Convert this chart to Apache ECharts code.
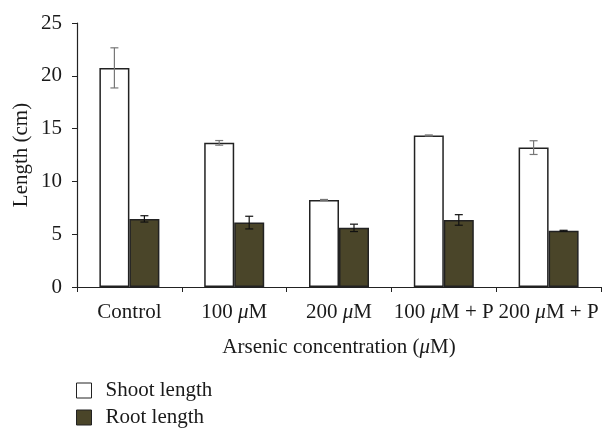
<!DOCTYPE html>
<html><head><meta charset="utf-8">
<script src="https://cdn.jsdelivr.net/npm/echarts@6/dist/echarts.min.js"></script>
<style>html,body{margin:0;padding:0;background:#fff}#c{width:603px;height:428px}</style>
</head><body><div id="c"></div>
<script>
const categories = ['Control', '100 μM', '200 μM', '100 μM + P', '200 μM + P'];
const shootLength = [20.75, 13.65, 8.25, 14.35, 13.2];
const shootError = [1.9, 0.22, 0.04, 0.05, 0.65];
const rootLength = [6.45, 6.1, 5.6, 6.35, 5.32];
const rootError = [0.3, 0.6, 0.35, 0.5, 0.05];
const yTicks = [0, 5, 10, 15, 20, 25];
const seriesNames = ['Shoot length', 'Root length'];

const FONT = 'Liberation Serif';
const FS = 21;
const rich = { i: { fontFamily: FONT, fontStyle: 'italic', fontSize: FS, color: '#1a1a1a' } };
function mu(s) { return s.replace(/μ/g, '{i|μ}'); }

const chart = echarts.init(document.getElementById('c'), null, { renderer: 'canvas' });
const BW = 30;
const ROOT_COLOR = '#4a4529';

function errSeries(name, vals, errs, offset, color) {
  return {
    type: 'custom', name: name + ' err', silent: true, z: 5,
    data: vals.map((v, i) => [i, v, errs[i]]),
    renderItem: function (params, api) {
      const i = api.value(0), v = api.value(1), e = api.value(2);
      const top = api.coord([i, v + e]);
      const bot = api.coord([i, v - e]);
      const x = top[0] + offset;
      const cap = 4;
      const st = { stroke: color, lineWidth: 1.2 };
      return { type: 'group', children: [
        { type: 'line', shape: { x1: x, y1: top[1], x2: x, y2: bot[1] }, style: st },
        { type: 'line', shape: { x1: x - cap, y1: top[1], x2: x + cap, y2: top[1] }, style: st },
        { type: 'line', shape: { x1: x - cap, y1: bot[1], x2: x + cap, y2: bot[1] }, style: st }
      ]};
    }
  };
}

function legendFor(name, top, fill) {
  return {
    left: 76, top: top, padding: 0, itemWidth: 15, itemHeight: 15,
    textStyle: { fontFamily: FONT, fontSize: FS, color: '#1a1a1a', padding: [0, 0, 0, 9] },
    data: [{ name: name, icon: 'rect', itemStyle: { color: fill, borderColor: '#222', borderWidth: 1 } }]
  };
}

chart.setOption({
  animation: false,
  backgroundColor: '#fff',
  textStyle: { fontFamily: FONT },
  grid: { left: 77, right: 2, top: 23, bottom: 141, containLabel: false },
  legend: [
    legendFor(seriesNames[0], 380, '#fff'),
    legendFor(seriesNames[1], 407, ROOT_COLOR)
  ],
  xAxis: {
    type: 'category', data: categories,
    name: mu('Arsenic concentration (μM)'), nameLocation: 'middle', nameGap: 50,
    nameMoveOverlap: false,
    nameTextStyle: { fontFamily: FONT, fontSize: FS, color: '#1a1a1a', rich: rich },
    axisLine: { lineStyle: { color: '#222', width: 1.2 } },
    axisTick: { show: true, length: 5, lineStyle: { color: '#222' } },
    axisLabel: { fontFamily: FONT, fontSize: FS, color: '#1a1a1a', margin: 15, interval: 0,
      formatter: v => mu(v), rich: rich },
    splitLine: { show: false }
  },
  yAxis: {
    type: 'value', min: yTicks[0], max: yTicks[yTicks.length - 1], interval: 5,
    name: 'Length (cm)', nameLocation: 'middle', nameGap: 45,
    nameMoveOverlap: false,
    nameTextStyle: { fontFamily: FONT, fontSize: FS, color: '#1a1a1a' },
    axisLine: { show: true, lineStyle: { color: '#222', width: 1.2 } },
    axisTick: { show: true, length: 5, lineStyle: { color: '#222' } },
    axisLabel: { fontFamily: FONT, fontSize: FS, color: '#1a1a1a', margin: 15 },
    splitLine: { show: false }
  },
  series: [
    { name: seriesNames[0], type: 'bar', data: shootLength, barWidth: BW, barGap: '0%',
      itemStyle: { color: '#fff', borderColor: '#222', borderWidth: 1.5 } },
    { name: seriesNames[1], type: 'bar', data: rootLength, barWidth: BW, barGap: '0%',
      itemStyle: { color: ROOT_COLOR, borderColor: '#222', borderWidth: 1.5 } },
    errSeries(seriesNames[0], shootLength, shootError, -BW / 2, '#777'),
    errSeries(seriesNames[1], rootLength, rootError, BW / 2, '#111')
  ]
});
</script></body></html>
